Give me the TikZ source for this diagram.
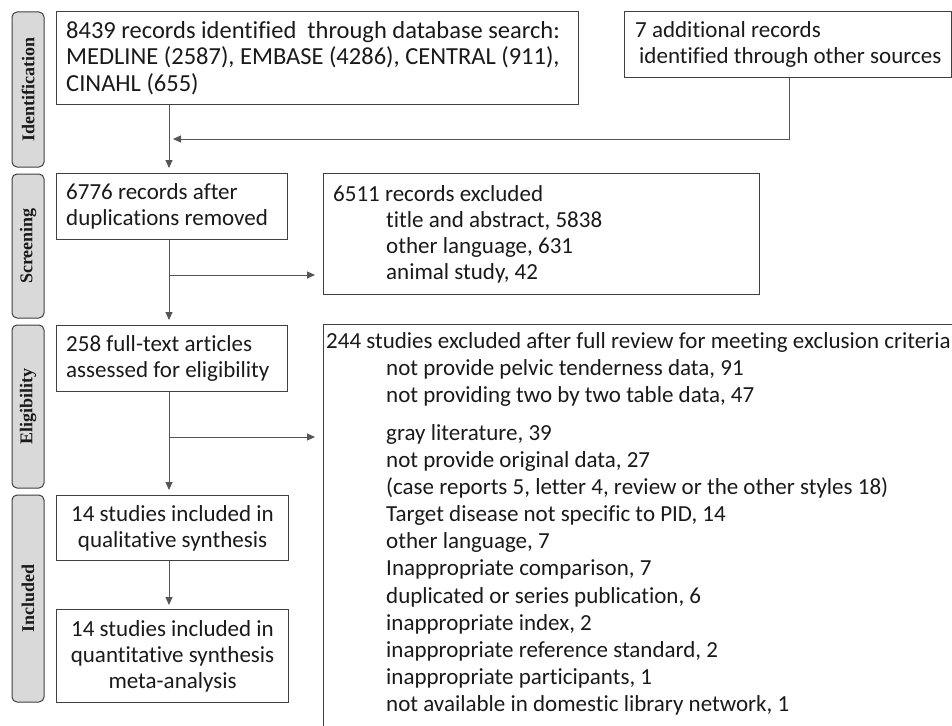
\documentclass[tikz,border=0pt]{standalone}
\usepackage{fontspec}
\setmainfont{Carlito}[Ligatures=NoCommon]
\newfontfamily\sidefont{Liberation Serif}
\usetikzlibrary{arrows.meta}
\definecolor{linegray}{HTML}{555555}
\definecolor{boxgray}{HTML}{404040}
\definecolor{sidefill}{HTML}{D9D9D9}
\definecolor{txtcol}{HTML}{1A1A1A}
\begin{document}
\begin{tikzpicture}[x=1pt,y=-1pt,
  flowbox/.style={draw=boxgray, line width=1.1pt, inner sep=0pt, anchor=north west},
  txt/.style={inner sep=0pt, align=left, text=txtcol, font=\fontsize{23}{26}\selectfont},
  bigtxt/.style={inner sep=0pt, align=left, text=txtcol, font=\fontsize{24.5}{26.5}\selectfont},
  listtxt/.style={inner sep=0pt, align=left, text=txtcol, font=\fontsize{23}{27.1}\selectfont},
  ctxt/.style={inner sep=0pt, align=center, text=txtcol, font=\fontsize{23}{26}\selectfont},
  sidebox/.style={draw=boxgray, fill=sidefill, line width=1pt, rounded corners=5pt, rotate=90, inner sep=0pt, minimum height=32pt, font=\sidefont\bfseries\fontsize{18}{20}\selectfont, text=txtcol},
  conn/.style={draw=linegray, line width=0.9pt},
  arr/.style={conn, -{Triangle[length=8pt,width=7pt]}, shorten >=5pt}
]
\useasboundingbox (0,0) rectangle (952,725);
\clip (0,0) rectangle (952,725);
\fill[white] (0,0) rectangle (952,725);

% side labels
\node[sidebox, minimum width=155pt] (sid) at (28,89.5) {Identification};
\node[sidebox, minimum width=144pt] (sscr) at (28,246) {Screening};
\node[sidebox, minimum width=163pt] (selg) at (28,406.5) {Eligibility};
\node[sidebox, minimum width=207pt] (sinc) at (28,598.5) {Included};

% boxes
\node[flowbox, minimum width=522pt, minimum height=93pt] (b1) at (56,11) {};
\node[bigtxt, anchor=west] (t1) at ([xshift=10pt]b1.west) {8439 records identified\ \ through database search:\\MEDLINE (2587), EMBASE (4286), CENTRAL (911),\\CINAHL (655)};

\node[flowbox, minimum width=327pt, minimum height=66pt] (b0) at (624,11) {};
\node[txt, anchor=west] (t0) at ([xshift=11pt]b0.west) {7 additional records\\\hspace*{4pt}identified through other sources};

\node[flowbox, minimum width=231pt, minimum height=66pt] (b2) at (56,173) {};
\node[txt, anchor=west] (t2) at ([xshift=10pt]b2.west) {6776 records after\\duplications removed};

\node[flowbox, minimum width=436pt, minimum height=121pt] (b6) at (323,173) {};
\node[txt, anchor=west] (t6) at ([xshift=10pt]b6.west) {6511 records excluded\\\hspace*{53pt}title and abstract, 5838\\\hspace*{53pt}other language, 631\\\hspace*{53pt}animal study, 42};

\node[flowbox, minimum width=231pt, minimum height=66pt] (b3) at (56,325) {};
\node[txt, anchor=west] (t3) at ([xshift=10pt]b3.west) {258 full-text articles\\assessed for eligibility};

\node[flowbox, minimum width=232pt, minimum height=65pt] (b4) at (56,495) {};
\node[ctxt] (t4) at (b4.center) {14 studies included in\\qualitative synthesis};

\node[flowbox, minimum width=232pt, minimum height=93pt] (b5) at (56,609) {};
\node[ctxt] (t5) at (b5.center) {14 studies included in\\quantitative synthesis\\meta-analysis};

\node[flowbox, minimum width=700pt, minimum height=450pt] (b7) at (323,324) {};
\node[listtxt, anchor=north west] (t7) at (326,332) {244 studies excluded after full review for meeting exclusion criteria\\
\hspace*{60pt}not provide pelvic tenderness data, 91\\
\hspace*{60pt}not providing two by two table data, 47\\[11pt]
\hspace*{60pt}gray literature, 39\\
\hspace*{60pt}not provide original data, 27\\
\hspace*{60pt}(case reports 5, letter 4, review or the other styles 18)\\
\hspace*{60pt}Target disease not specific to PID, 14\\
\hspace*{60pt}other language, 7\\
\hspace*{60pt}Inappropriate comparison, 7\\
\hspace*{60pt}duplicated or series publication, 6\\
\hspace*{60pt}inappropriate index, 2\\
\hspace*{60pt}inappropriate reference standard, 2\\
\hspace*{60pt}inappropriate participants, 1\\
\hspace*{60pt}not available in domestic library network, 1};

% connectors
\coordinate (spine) at (169,0);
\coordinate (m) at (789,139);
\coordinate (s1) at (169,275);
\coordinate (s2) at (169,437);
\draw[arr] (b1.south -| spine) -- (b2.north -| spine);
\draw[arr, shorten >=4pt] (b0.south -| m) -- (m) -- (m -| spine);
\draw[arr] (b2.south -| spine) -- (b3.north -| spine);
\draw[arr, shorten >=8pt] (s1) -- (s1 -| b6.west);
\draw[arr] (b3.south -| spine) -- (b4.north -| spine);
\draw[arr, shorten >=8pt] (s2) -- (s2 -| b7.west);
\draw[arr, shorten >=4pt] (b4.south -| spine) -- (b5.north -| spine);
\end{tikzpicture}
\end{document}
